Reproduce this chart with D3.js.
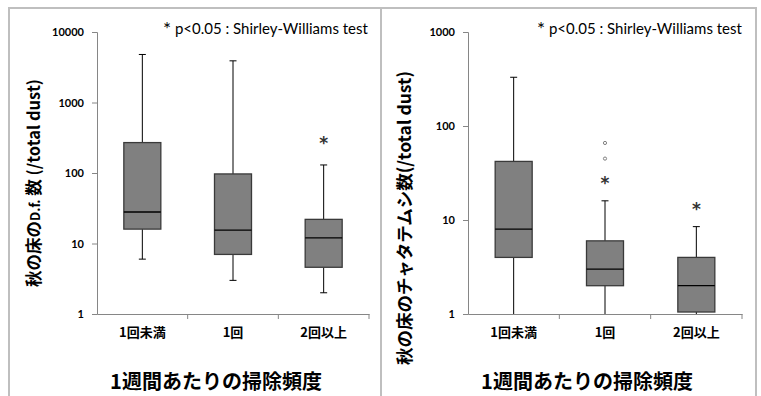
<!DOCTYPE html>
<html>
<head>
<meta charset="utf-8">
<script src="https://cdn.jsdelivr.net/npm/d3@7"></script>
<style>
  body { margin: 0; background: #fff; }
  svg { display: block; }
  .tick text { font-family: Lato, "Noto Sans CJK JP", sans-serif; font-weight: bold; font-size: 11px; fill: #000; }
</style>
</head>
<body>
<svg id="chart" width="761" height="396"></svg>
<script>
const groups = ["1回未満", "1回", "2回以上"];

// 左: D.f.
const dfMin = [6, 3, 2];
const dfQ1 = [16, 7, 4.6];
const dfMed = [28, 15.5, 12];
const dfQ3 = [270, 97, 22];
const dfMax = [4800, 3900, 130];
const dfSig = [false, false, true];
const dfTicks = [1, 10, 100, 1000, 10000];

// 右: チャタテムシ
const psMin = [1, 1, 1];
const psQ1 = [4, 2, 1.05];
const psMed = [8, 3, 2];
const psQ3 = [42, 6, 4];
const psMax = [330, 16, 8.5];
const psOut = [[], [45, 66], []];
const psSig = [false, true, true];
const psTicks = [1, 10, 100, 1000];

const svg = d3.select("#chart");

function panel(o) {
  const g = svg.append("g");

  // 枠
  g.append("rect")
    .attr("x", o.bx).attr("y", 8)
    .attr("width", o.bw).attr("height", 400)
    .attr("fill", "none").attr("stroke", "#bfbfbf").attr("stroke-width", 2);

  const y = d3.scaleLog().domain([1, o.ticks[o.ticks.length - 1]]).range([314, 32]);
  const x = d3.scaleBand().domain(groups).range([o.x0, o.x1]);

  // y軸
  const yAxisG = g.append("g")
    .attr("transform", `translate(${o.x0},0)`)
    .call(d3.axisLeft(y).tickValues(o.ticks).tickFormat(d3.format("d")).tickSize(5).tickPadding(8));
  yAxisG.selectAll("path, line").attr("stroke", "#868686");

  // x軸
  const xAxisG = g.append("g")
    .attr("transform", `translate(0,314)`)
    .call(d3.axisBottom(x).tickSize(0).tickPadding(14));
  xAxisG.select("path").attr("stroke", "#868686");
  xAxisG.selectAll("text")
    .attr("style", "font-size:13px; font-weight:bold; font-family:'Noto Sans CJK JP', sans-serif");
  // 区切りの目盛り
  g.selectAll(".sep")
    .data(groups.slice(1).concat([null]))
    .enter().append("line")
    .attr("x1", (d, i) => i < 2 ? x(d) : o.x1)
    .attr("x2", (d, i) => i < 2 ? x(d) : o.x1)
    .attr("y1", 314).attr("y2", 319)
    .attr("stroke", "#868686");

  const bw = 37;
  const cx = d => x(d) + x.bandwidth() / 2;

  groups.forEach((grp, i) => {
    const c = cx(grp);
    // ひげ
    g.append("line")
      .attr("x1", c).attr("x2", c)
      .attr("y1", y(o.max[i])).attr("y2", y(o.q3[i]))
      .attr("stroke", "#000");
    g.append("line")
      .attr("x1", c).attr("x2", c)
      .attr("y1", y(o.q1[i])).attr("y2", y(o.min[i]))
      .attr("stroke", "#000");
    [o.max[i], o.min[i]].forEach(v => {
      if (v > 1) {
        g.append("line")
          .attr("x1", c - 3.5).attr("x2", c + 3.5)
          .attr("y1", y(v)).attr("y2", y(v))
          .attr("stroke", "#000");
      }
    });
    // 箱
    g.append("rect")
      .attr("x", c - bw / 2).attr("y", y(o.q3[i]))
      .attr("width", bw).attr("height", y(o.q1[i]) - y(o.q3[i]))
      .attr("fill", "#808080").attr("stroke", "#3a3a3a").attr("stroke-width", 1.3);
    g.append("line")
      .attr("x1", c - bw / 2).attr("x2", c + bw / 2)
      .attr("y1", y(o.med[i])).attr("y2", y(o.med[i]))
      .attr("stroke", "#000").attr("stroke-width", 1.3);
    // 外れ値
    (o.out ? o.out[i] : []).forEach(v => {
      g.append("circle")
        .attr("cx", c).attr("cy", y(v)).attr("r", 1.6)
        .attr("fill", "none").attr("stroke", "#808080").attr("stroke-width", 1);
    });
    // 有意
    if (o.sig[i]) {
      g.append("text")
        .attr("x", c).attr("y", y(o.max[i]) - o.starOff + 11)
        .attr("text-anchor", "middle")
        .attr("font-family", "'DejaVu Sans', sans-serif").attr("font-size", "17px")
        .attr("font-weight", "bold")
        .attr("fill", "#333")
        .text("*");
    }
  });

  // 凡例
  const leg = g.append("text")
    .attr("x", o.legX).attr("y", 34)
    .attr("font-family", "Lato, 'Open Sans', sans-serif").attr("font-size", "15px")
    .attr("fill", "#000");
  leg.append("tspan").attr("font-size", "19px").attr("dy", 2).text("*");
  leg.append("tspan").attr("dy", -2).text(" p<0.05 : Shirley-Williams test");

  // 軸タイトル
  g.append("text")
    .attr("x", o.titleX).attr("y", 389)
    .attr("text-anchor", "middle")
    .attr("font-family", "'Noto Sans CJK JP', sans-serif").attr("font-weight", "bold")
    .attr("font-size", "20px").attr("fill", "#000")
    .text("1週間あたりの掃除頻度");

  const yl = g.append("text")
    .attr("transform", `translate(${o.ylX},${o.ylY}) rotate(-90)`)
    .attr("text-anchor", "middle")
    .attr("font-family", "'Noto Sans CJK JP', sans-serif").attr("font-weight", "bold")
    .attr("font-size", o.ylSize).attr("fill", "#000");
  o.ylParts.forEach(p => yl.append("tspan").attr("font-size", p[1] || null).text(p[0]));
}

panel({
  bx: 9, bw: 372, x0: 97, x1: 369, ticks: dfTicks,
  min: dfMin, q1: dfQ1, med: dfMed, q3: dfQ3, max: dfMax, sig: dfSig, starOff: 27,
  legX: 163, titleX: 216, ylX: 40, ylY: 183, ylSize: "16.5px",
  ylParts: [["秋の床の"], ["D.f.", "13px"], [" 数 (/total dust)"]]
});

panel({
  bx: 381, bw: 375, x0: 468, x1: 742, ticks: psTicks,
  min: psMin, q1: psQ1, med: psMed, q3: psQ3, max: psMax, out: psOut, sig: psSig, starOff: 23,
  legX: 537, titleX: 587, ylX: 411, ylY: 218, ylSize: "17.5px",
  ylParts: [["秋の床のチャタテムシ数(/total dust)"]]
});
</script>
</body>
</html>
